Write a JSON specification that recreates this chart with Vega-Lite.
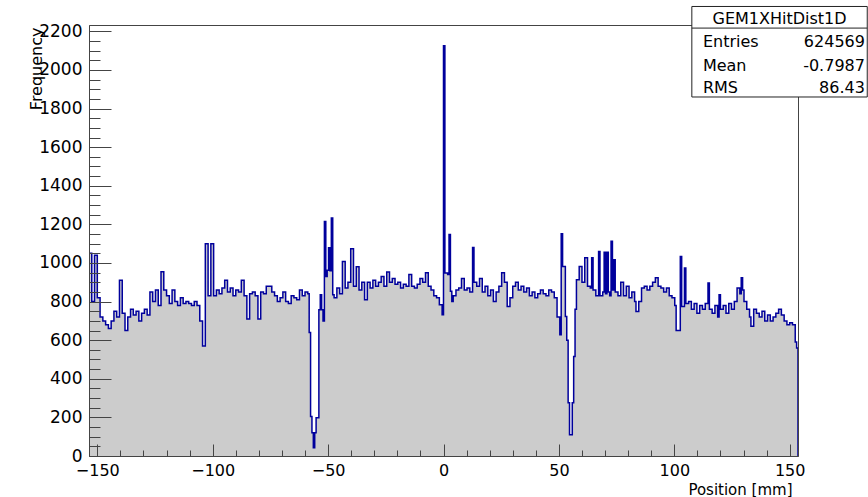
{
  "$schema": "https://vega.github.io/schema/vega-lite/v6.json",
  "width": 709,
  "height": 431,
  "autosize": {"type": "none"},
  "padding": {"left": 89, "top": 25, "right": 70, "bottom": 41},
  "background": "white",
  "config": {"view": {"stroke": "#444", "strokeWidth": 1}, "font": "DejaVu Sans"},
  "resolve": {"axis": {"x": "independent", "y": "independent"}},
  "data": {"values": [
    {"x":-153.6,"y":1050},{"x":-152.4,"y":800},{"x":-151.2,"y":1040},{"x":-150.0,"y":820},{"x":-148.8,"y":720},{"x":-147.6,"y":700},{"x":-146.4,"y":680},{"x":-145.2,"y":660},{"x":-144.0,"y":700},{"x":-142.8,"y":750},{"x":-141.6,"y":720},{"x":-140.4,"y":910},{"x":-139.2,"y":740},{"x":-138.0,"y":650},{"x":-136.8,"y":720},{"x":-135.6,"y":760},{"x":-134.4,"y":730},{"x":-133.2,"y":750},{"x":-132.0,"y":700},{"x":-130.8,"y":740},{"x":-129.6,"y":760},{"x":-128.4,"y":730},{"x":-127.2,"y":850},{"x":-126.0,"y":800},{"x":-124.8,"y":860},{"x":-123.6,"y":780},{"x":-122.4,"y":955},{"x":-121.2,"y":860},{"x":-120.0,"y":830},{"x":-118.8,"y":790},{"x":-117.6,"y":860},{"x":-116.4,"y":800},{"x":-115.2,"y":780},{"x":-114.0,"y":820},{"x":-112.8,"y":790},{"x":-111.6,"y":800},{"x":-110.4,"y":790},{"x":-109.2,"y":780},{"x":-108.0,"y":800},{"x":-106.8,"y":780},{"x":-105.6,"y":700},{"x":-104.4,"y":570},{"x":-103.2,"y":1100},{"x":-102.0,"y":830},{"x":-100.8,"y":1100},{"x":-99.6,"y":830},{"x":-98.4,"y":860},{"x":-97.2,"y":840},{"x":-96.0,"y":870},{"x":-94.8,"y":910},{"x":-93.6,"y":850},{"x":-92.4,"y":870},{"x":-91.2,"y":830},{"x":-90.0,"y":860},{"x":-88.8,"y":850},{"x":-87.6,"y":910},{"x":-86.4,"y":830},{"x":-85.2,"y":710},{"x":-84.0,"y":840},{"x":-82.8,"y":850},{"x":-81.6,"y":830},{"x":-80.4,"y":710},{"x":-79.2,"y":850},{"x":-78.0,"y":840},{"x":-76.8,"y":880},{"x":-75.6,"y":880},{"x":-74.4,"y":850},{"x":-73.2,"y":830},{"x":-72.0,"y":800},{"x":-70.8,"y":820},{"x":-69.6,"y":850},{"x":-68.4,"y":800},{"x":-67.2,"y":790},{"x":-66.0,"y":830},{"x":-64.8,"y":820},{"x":-63.6,"y":810},{"x":-62.4,"y":860},{"x":-61.2,"y":830},{"x":-60.0,"y":850},{"x":-58.8,"y":840},{"x":-58.2,"y":640},{"x":-57.6,"y":205},{"x":-57.0,"y":120},{"x":-56.4,"y":43},{"x":-55.8,"y":120},{"x":-55.2,"y":198},{"x":-54.6,"y":198},{"x":-54.0,"y":758},{"x":-53.4,"y":836},{"x":-52.8,"y":758},{"x":-52.2,"y":700},{"x":-51.6,"y":1215},{"x":-51.0,"y":930},{"x":-50.4,"y":962},{"x":-49.8,"y":1079},{"x":-49.2,"y":960},{"x":-48.6,"y":1233},{"x":-48.0,"y":836},{"x":-47.4,"y":820},{"x":-46.2,"y":870},{"x":-45.0,"y":840},{"x":-43.8,"y":1008},{"x":-42.6,"y":870},{"x":-41.4,"y":900},{"x":-40.2,"y":1074},{"x":-39.0,"y":880},{"x":-37.8,"y":980},{"x":-36.6,"y":860},{"x":-35.4,"y":900},{"x":-34.2,"y":810},{"x":-33.0,"y":900},{"x":-31.8,"y":870},{"x":-30.6,"y":910},{"x":-29.4,"y":880},{"x":-28.2,"y":900},{"x":-27.0,"y":930},{"x":-25.8,"y":880},{"x":-24.6,"y":953},{"x":-23.4,"y":900},{"x":-22.2,"y":920},{"x":-21.0,"y":890},{"x":-19.8,"y":900},{"x":-18.6,"y":870},{"x":-17.4,"y":890},{"x":-16.2,"y":880},{"x":-15.0,"y":940},{"x":-13.8,"y":880},{"x":-12.6,"y":870},{"x":-11.4,"y":890},{"x":-10.2,"y":920},{"x":-9.0,"y":900},{"x":-7.8,"y":950},{"x":-6.6,"y":880},{"x":-5.4,"y":860},{"x":-4.2,"y":830},{"x":-3.0,"y":820},{"x":-1.8,"y":784},{"x":-0.6,"y":732},{"x":0.0,"y":2126},{"x":0.6,"y":948},{"x":1.8,"y":940},{"x":2.4,"y":1147},{"x":3.0,"y":853},{"x":3.6,"y":801},{"x":4.2,"y":830},{"x":5.4,"y":860},{"x":6.6,"y":870},{"x":7.8,"y":920},{"x":9.0,"y":860},{"x":10.2,"y":870},{"x":11.4,"y":850},{"x":12.6,"y":1080},{"x":13.2,"y":900},{"x":14.4,"y":880},{"x":15.6,"y":920},{"x":16.8,"y":850},{"x":18.0,"y":880},{"x":19.2,"y":830},{"x":20.4,"y":860},{"x":21.6,"y":800},{"x":22.8,"y":850},{"x":24.0,"y":880},{"x":25.2,"y":950},{"x":26.4,"y":900},{"x":27.6,"y":775},{"x":28.8,"y":820},{"x":30.0,"y":880},{"x":31.2,"y":900},{"x":32.4,"y":860},{"x":33.6,"y":880},{"x":34.8,"y":850},{"x":36.0,"y":870},{"x":37.2,"y":830},{"x":38.4,"y":850},{"x":39.6,"y":820},{"x":40.8,"y":840},{"x":42.0,"y":860},{"x":43.2,"y":840},{"x":44.4,"y":830},{"x":45.6,"y":860},{"x":46.8,"y":850},{"x":48.0,"y":820},{"x":49.2,"y":720},{"x":50.4,"y":628},{"x":51.0,"y":1152},{"x":51.6,"y":982},{"x":52.8,"y":723},{"x":53.4,"y":600},{"x":54.0,"y":276},{"x":54.6,"y":110},{"x":55.8,"y":276},{"x":56.4,"y":516},{"x":57.0,"y":760},{"x":57.6,"y":913},{"x":58.8,"y":982},{"x":60.0,"y":900},{"x":61.2,"y":1027},{"x":62.4,"y":880},{"x":63.6,"y":870},{"x":64.2,"y":1027},{"x":64.8,"y":860},{"x":66.0,"y":830},{"x":67.2,"y":1060},{"x":67.8,"y":830},{"x":69.0,"y":850},{"x":69.6,"y":1055},{"x":70.2,"y":840},{"x":70.8,"y":1055},{"x":71.4,"y":850},{"x":72.0,"y":830},{"x":72.6,"y":1112},{"x":73.2,"y":860},{"x":73.8,"y":1017},{"x":74.4,"y":850},{"x":75.6,"y":830},{"x":76.8,"y":900},{"x":78.0,"y":830},{"x":79.2,"y":880},{"x":80.4,"y":820},{"x":81.6,"y":850},{"x":82.8,"y":800},{"x":83.4,"y":749},{"x":84.6,"y":800},{"x":85.8,"y":870},{"x":87.0,"y":880},{"x":88.2,"y":860},{"x":89.4,"y":880},{"x":90.6,"y":900},{"x":91.8,"y":924},{"x":93.0,"y":880},{"x":94.2,"y":870},{"x":95.4,"y":850},{"x":96.6,"y":870},{"x":97.8,"y":830},{"x":99.0,"y":820},{"x":100.2,"y":780},{"x":100.8,"y":650},{"x":102.6,"y":1034},{"x":103.2,"y":775},{"x":104.4,"y":974},{"x":105.0,"y":790},{"x":106.2,"y":800},{"x":107.4,"y":760},{"x":108.6,"y":790},{"x":109.8,"y":740},{"x":111.0,"y":780},{"x":112.2,"y":760},{"x":113.4,"y":790},{"x":114.6,"y":896},{"x":115.2,"y":760},{"x":116.4,"y":740},{"x":117.6,"y":780},{"x":118.8,"y":720},{"x":119.4,"y":836},{"x":120.0,"y":760},{"x":121.2,"y":780},{"x":122.4,"y":740},{"x":123.6,"y":790},{"x":124.8,"y":760},{"x":126.0,"y":800},{"x":127.2,"y":870},{"x":128.4,"y":840},{"x":129.0,"y":924},{"x":129.6,"y":860},{"x":130.2,"y":800},{"x":131.4,"y":760},{"x":132.6,"y":720},{"x":133.2,"y":672},{"x":134.4,"y":760},{"x":135.6,"y":740},{"x":136.8,"y":720},{"x":138.0,"y":750},{"x":139.2,"y":700},{"x":140.4,"y":730},{"x":141.6,"y":700},{"x":142.8,"y":720},{"x":144.0,"y":740},{"x":145.2,"y":760},{"x":146.4,"y":730},{"x":147.6,"y":700},{"x":148.8,"y":680},{"x":150.0,"y":690},{"x":151.2,"y":680},{"x":152.4,"y":590},{"x":153.0,"y":560},{"x":153.6,"y":0}
  ]},
  "layer": [
    {
      "mark": {"type": "area", "interpolate": "step-after", "color": "#cccccc", "clip": true},
      "encoding": {
        "x": {
          "field": "x", "type": "quantitative",
          "scale": {"domain": [-153.6, 153.6], "nice": false, "zero": false},
          "axis": {
            "orient": "bottom",
            "values": [-150, -100, -50, 0, 50, 100, 150],
            "tickSize": -12,
            "tickColor": "#444",
            "domain": true, "domainColor": "#444",
            "grid": false,
            "zindex": 1,
            "labelOverlap": false, "labelFlush": false,
            "labelFont": "DejaVu Sans", "labelFontSize": 16, "labelColor": "#000", "labelPadding": 18,
            "title": "Position [mm]",
            "titleFont": "DejaVu Sans", "titleFontSize": 15, "titleFontWeight": "normal", "titleColor": "#000",
            "titleAnchor": "end", "titleAlign": "right", "titleBaseline": "alphabetic",
            "titleX": 703, "titleY": 38
          }
        },
        "y": {
          "field": "y", "type": "quantitative",
          "scale": {"domain": [0, 2233], "nice": false},
          "axis": {
            "orient": "left",
            "values": [0, 200, 400, 600, 800, 1000, 1200, 1400, 1600, 1800, 2000, 2200],
            "format": "d",
            "tickSize": -22,
            "tickColor": "#444",
            "domain": true, "domainColor": "#444",
            "grid": false,
            "zindex": 1,
            "labelOverlap": false, "labelFlush": false,
            "labelFont": "DejaVu Sans", "labelFontSize": 17, "labelColor": "#000", "labelPadding": 29,
            "title": "Frequency",
            "titleFont": "DejaVu Sans", "titleFontSize": 16, "titleFontWeight": "normal", "titleColor": "#000",
            "titleAngle": 270, "titleAlign": "right", "titleBaseline": "alphabetic",
            "titleX": -48, "titleY": 2
          }
        }
      }
    },
    {
      "mark": {"type": "line", "interpolate": "step-after", "color": "#00009c", "strokeWidth": 1.5, "clip": true},
      "encoding": {
        "x": {
          "field": "x", "type": "quantitative",
          "axis": {
            "orient": "bottom",
            "values": [-140,-130,-120,-110,-90,-80,-70,-60,-40,-30,-20,-10,10,20,30,40,60,70,80,90,110,120,130,140],
            "tickSize": -6, "tickColor": "#444",
            "labels": false, "domain": false, "grid": false, "title": null, "zindex": 1
          }
        },
        "y": {
          "field": "y", "type": "quantitative",
          "axis": {
            "orient": "left",
            "values": [50,100,150,250,300,350,450,500,550,650,700,750,850,900,950,1050,1100,1150,1250,1300,1350,1450,1500,1550,1650,1700,1750,1850,1900,1950,2050,2100,2150],
            "tickSize": -11, "tickColor": "#444",
            "labels": false, "domain": false, "grid": false, "title": null, "zindex": 1
          }
        }
      }
    },
    {
      "data": {"values": [{"name": "GEM1XHitDist1D"}]},
      "mark": {"type": "rect", "fill": "white", "stroke": "#222", "strokeWidth": 1, "clip": false},
      "encoding": {
        "x": {"datum": 107.6, "axis": null}, "x2": {"datum": 183.6},
        "y": {"datum": 2329, "axis": null}, "y2": {"datum": 1860}
      }
    },
    {
      "data": {"values": [{"name": "GEM1XHitDist1D"}]},
      "mark": {"type": "rule", "stroke": "#222", "strokeWidth": 1, "clip": false},
      "encoding": {
        "x": {"datum": 107.6, "axis": null}, "x2": {"datum": 183.6},
        "y": {"datum": 2217, "axis": null}
      }
    },
    {
      "data": {"values": [{"name": "GEM1XHitDist1D"}]},
      "mark": {"type": "text", "font": "DejaVu Sans", "fontSize": 16, "color": "#000", "align": "center", "baseline": "middle", "clip": false},
      "encoding": {
        "x": {"datum": 145.6, "axis": null}, "y": {"datum": 2266, "axis": null},
        "text": {"field": "name", "type": "nominal"}
      }
    },
    {
      "data": {"values": [{"k": "Entries", "v": "624569"}]},
      "mark": {"type": "text", "font": "DejaVu Sans", "fontSize": 16, "color": "#000", "align": "left", "baseline": "middle", "clip": false},
      "encoding": {"x": {"datum": 112.4, "axis": null}, "y": {"datum": 2145, "axis": null}, "text": {"field": "k", "type": "nominal"}}
    },
    {
      "data": {"values": [{"k": "Entries", "v": "624569"}]},
      "mark": {"type": "text", "font": "DejaVu Sans", "fontSize": 16, "color": "#000", "align": "right", "baseline": "middle", "clip": false},
      "encoding": {"x": {"datum": 182.6, "axis": null}, "y": {"datum": 2145, "axis": null}, "text": {"field": "v", "type": "nominal"}}
    },
    {
      "data": {"values": [{"k": "Mean", "v": "-0.7987"}]},
      "mark": {"type": "text", "font": "DejaVu Sans", "fontSize": 16, "color": "#000", "align": "left", "baseline": "middle", "clip": false},
      "encoding": {"x": {"datum": 112.4, "axis": null}, "y": {"datum": 2023, "axis": null}, "text": {"field": "k", "type": "nominal"}}
    },
    {
      "data": {"values": [{"k": "Mean", "v": "-0.7987"}]},
      "mark": {"type": "text", "font": "DejaVu Sans", "fontSize": 16, "color": "#000", "align": "right", "baseline": "middle", "clip": false},
      "encoding": {"x": {"datum": 182.6, "axis": null}, "y": {"datum": 2023, "axis": null}, "text": {"field": "v", "type": "nominal"}}
    },
    {
      "data": {"values": [{"k": "RMS", "v": "86.43"}]},
      "mark": {"type": "text", "font": "DejaVu Sans", "fontSize": 16, "color": "#000", "align": "left", "baseline": "middle", "clip": false},
      "encoding": {"x": {"datum": 112.4, "axis": null}, "y": {"datum": 1907, "axis": null}, "text": {"field": "k", "type": "nominal"}}
    },
    {
      "data": {"values": [{"k": "RMS", "v": "86.43"}]},
      "mark": {"type": "text", "font": "DejaVu Sans", "fontSize": 16, "color": "#000", "align": "right", "baseline": "middle", "clip": false},
      "encoding": {"x": {"datum": 182.6, "axis": null}, "y": {"datum": 1907, "axis": null}, "text": {"field": "v", "type": "nominal"}}
    }
  ]
}
